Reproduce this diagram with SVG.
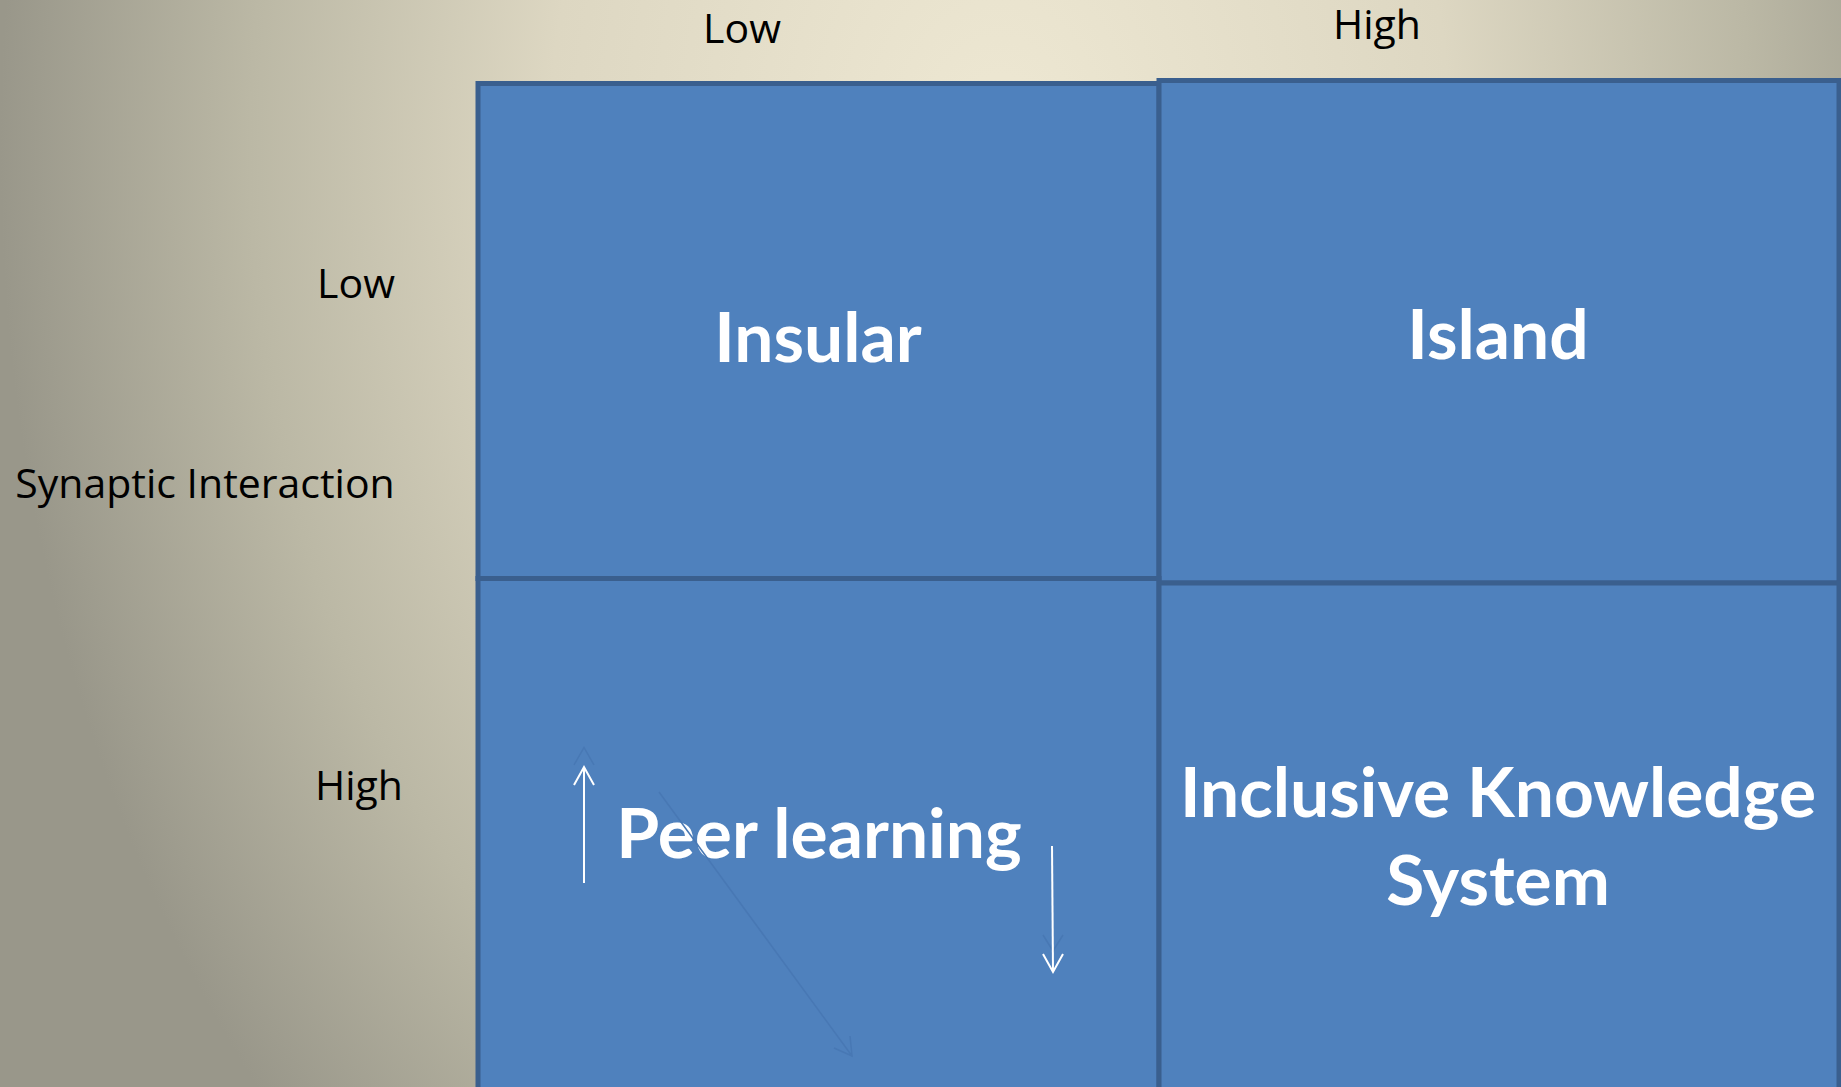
<svg xmlns="http://www.w3.org/2000/svg" width="1841" height="1087" viewBox="0 0 1841 1087">
  <defs>
    <radialGradient id="bg" gradientUnits="userSpaceOnUse" cx="1000" cy="150" r="1000" gradientTransform="translate(1000 150) scale(1 1.4) translate(-1000 -150)">
      <stop offset="0" stop-color="#EEE8D3"/>
      <stop offset="0.45" stop-color="#DDD7C2"/>
      <stop offset="0.75" stop-color="#BBB8A5"/>
      <stop offset="1" stop-color="#99978A"/>
    </radialGradient>
  </defs>
  <style>
    .cell { fill: #4F81BD; stroke: #3A5F8E; stroke-width: 5; }
    .axis { font-family: "Open Sans", "Noto Sans", sans-serif; font-size: 41px; fill: #000000; }
    .big { font-family: Lato, "Open Sans", sans-serif; font-weight: bold; font-size: 69.5px; fill: #FFFFFF; text-anchor: middle; }
    .arrow { stroke: #FFFFFF; stroke-width: 2; fill: none; }
    .ghost { stroke: #4878B4; stroke-width: 1.5; fill: none; }
  </style>
  <rect x="0" y="0" width="1841" height="1087" fill="url(#bg)"/>

  <g id="axis-labels">
    <text class="axis" x="742" y="43" text-anchor="middle">Low</text>
    <text class="axis" x="1377" y="39" text-anchor="middle">High</text>
    <text class="axis" x="356" y="298" text-anchor="middle">Low</text>
    <text class="axis" x="205" y="498" text-anchor="middle">Synaptic Interaction</text>
    <text class="axis" x="359" y="800" text-anchor="middle">High</text>
  </g>

  <g id="insular">
    <rect class="cell" x="478" y="83.5" width="681" height="495"/>
    <text class="big" x="818" y="362">Insular</text>
  </g>
  <g id="island">
    <rect class="cell" x="1159" y="80.5" width="680" height="502.5"/>
    <text class="big" x="1498" y="359">Island</text>
  </g>
  <g id="peer-learning">
    <rect class="cell" x="478" y="578.5" width="681" height="515"/>
    <text class="big" x="819" y="858">Peer learning</text>
  </g>
  <g id="inclusive-knowledge-system">
    <rect class="cell" x="1159" y="583" width="680" height="515"/>
    <text class="big" x="1498" y="817">Inclusive Knowledge</text>
    <text class="big" x="1498" y="905">System</text>
  </g>

  <g id="connectors">
    <path class="ghost" d="M574,765 L584,747.5 L594,765"/>
    <path class="ghost" d="M1043,935 L1053,951 L1063,935"/>
    <line class="ghost" x1="659" y1="792" x2="852" y2="1056"/>
    <path class="ghost" d="M834,1048 L852,1056 L850,1036"/>
    <line class="arrow" x1="584" y1="883" x2="584" y2="767"/>
    <path class="arrow" d="M574,785 L584,767 L594,785"/>
    <line class="arrow" x1="1052" y1="846" x2="1053" y2="972"/>
    <path class="arrow" d="M1043,954 L1053,972 L1063,954"/>
  </g>
</svg>
